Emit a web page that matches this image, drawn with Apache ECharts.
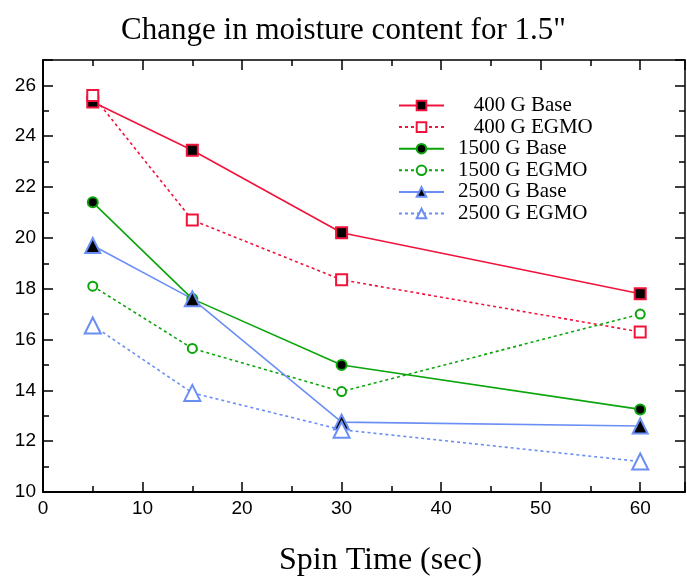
<!DOCTYPE html>
<html style="height: 100%">
<head>
    <meta charset="utf-8">
    <script src="https://cdn.jsdelivr.net/npm/echarts@6/dist/echarts.min.js"></script>
</head>
<body style="height: 100%;margin: 0;background: #fff">
<div id="chart1" style="width: 687px;height: 584px;"></div>
<script type="text/javascript">
// spin time (sec)
var spinTime = [5, 15, 30, 60];
// moisture content per series
var base400 = [25.35, 23.45, 20.2, 17.8];
var egmo400 = [25.6, 20.7, 18.35, 16.3];
var base1500 = [21.4, 17.6, 15.0, 13.25];
var egmo1500 = [18.1, 15.65, 13.95, 17.0];
var base2500 = [19.7, 17.6, 12.75, 12.6];
var egmo2500 = [16.55, 13.9, 12.45, 11.2];

var seriesNames = ['400 G Base', '400 G EGMO', '1500 G Base', '1500 G EGMO', '2500 G Base', '2500 G EGMO'];

var red = '#f0143c', green = '#0aa50a', blue = '#6b8ef5';

function pairs(ys) {
    return spinTime.map(function (x, i) { return [x, ys[i]]; });
}

function makeSeries(name, ys, color, symbol, size, fill, dashed) {
    return {
        name: name,
        type: 'line',
        data: pairs(ys),
        symbol: symbol,
        symbolSize: size,
        xAxisIndex: 0,
        yAxisIndex: 0,
        lineStyle: {color: color, width: 1.6, type: dashed ? [3, 3] : 'solid'},
        itemStyle: {color: fill, borderColor: color, borderWidth: 2},
        emphasis: {disabled: true},
        z: 3
    };
}

// shared axis look
var tickFont = {fontFamily: 'Liberation Sans', fontSize: 19, color: '#000'};
function xAxis(pos, lineW) {
    return {
        type: 'value', position: pos, min: 0, max: 64.5, interval: 10,
        axisLine: {show: true, onZero: false, lineStyle: {color: '#000', width: lineW}},
        axisTick: {inside: true, length: 10, lineStyle: {color: '#000', width: 1.5}},
        minorTick: {show: true, splitNumber: 2, length: 6, lineStyle: {color: '#000', width: 1.5}},
        axisLabel: pos === 'bottom' ? Object.assign({show: true, margin: 7, showMaxLabel: false}, tickFont) : {show: false},
        splitLine: {show: false}
    };
}
function yAxis(pos, lineW) {
    return {
        type: 'value', position: pos, min: 10, max: 27, interval: 2,
        axisLine: {show: true, onZero: false, lineStyle: {color: '#000', width: lineW}},
        axisTick: {inside: true, length: 10, lineStyle: {color: '#000', width: 1.5}},
        minorTick: {show: true, splitNumber: 2, length: 6, lineStyle: {color: '#000', width: 1.5}},
        axisLabel: pos === 'left' ? Object.assign({show: true, margin: 7, showMaxLabel: false}, tickFont) : {show: false},
        splitLine: {show: false}
    };
}

var myChart = echarts.init(document.getElementById('chart1'));
var option = {
    backgroundColor: '#fff',
    animation: false,
    title: [
        {
            text: 'Change in moisture content for 1.5"',
            left: 'center', top: 10,
            textStyle: {fontFamily: 'Liberation Serif', fontSize: 31, fontWeight: 'normal', color: '#000'}
        },
        {
            text: 'Spin Time (sec)',
            left: 274, top: 540,
            textStyle: {fontFamily: 'Liberation Serif', fontSize: 32, fontWeight: 'normal', color: '#000'}
        }
    ],
    grid: {left: 43, right: 2, top: 60, bottom: 92},
    legend: {
        orient: 'vertical',
        left: 398, top: 95, padding: 0,
        itemWidth: 45, itemHeight: 12, itemGap: 0.6,
        selectedMode: false,
        data: seriesNames,
        formatter: function (name) {
            return name.indexOf('400') === 0 ? '   ' + name : name;
        },
        textStyle: {fontFamily: 'Liberation Serif', fontSize: 21, color: '#000', padding: [0, 0, 0, 9]}
    },
    xAxis: [xAxis('bottom', 2), xAxis('top', 1.5)],
    yAxis: [yAxis('left', 2), yAxis('right', 1.5)],
    series: [
        makeSeries(seriesNames[0], base400, red, 'rect', 11, '#000', false),
        makeSeries(seriesNames[1], egmo400, red, 'rect', 11, '#fff', true),
        makeSeries(seriesNames[2], base1500, green, 'circle', 10, '#000', false),
        makeSeries(seriesNames[3], egmo1500, green, 'circle', 9, '#fff', true),
        makeSeries(seriesNames[4], base2500, blue, 'triangle', 15, '#000', false),
        makeSeries(seriesNames[5], egmo2500, blue, 'triangle', 16, '#fff', true)
    ]
};
myChart.setOption(option);
</script>
</body>
</html>
